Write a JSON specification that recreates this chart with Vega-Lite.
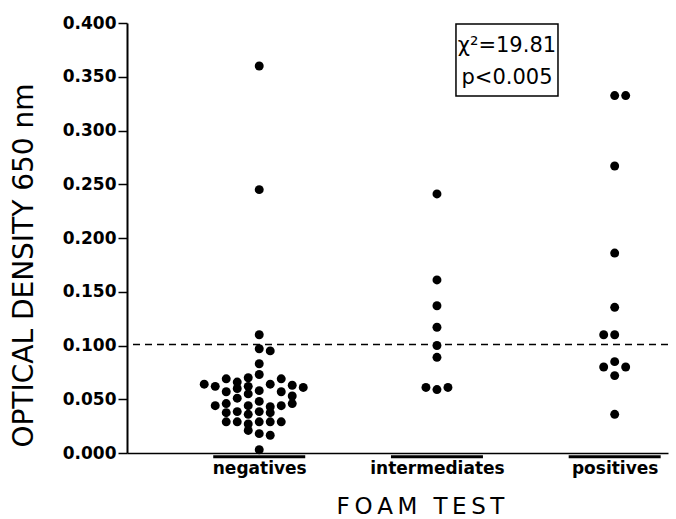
{
  "$schema": "https://vega.github.io/schema/vega-lite/v6.json",
  "width": 541,
  "height": 430,
  "autosize": {"type": "none"},
  "padding": {"left": 127, "top": 23, "right": 8, "bottom": 66},
  "background": "white",
  "config": {"view": {"stroke": null}, "font": "DejaVu Sans"},
  "datasets": {
    "points": [
      {"group": "negatives", "col": 0, "od": 0.360},
      {"group": "negatives", "col": 0, "od": 0.245},
      {"group": "negatives", "col": 0, "od": 0.110},
      {"group": "negatives", "col": 0, "od": 0.097},
      {"group": "negatives", "col": 1, "od": 0.095},
      {"group": "negatives", "col": 0, "od": 0.083},
      {"group": "negatives", "col": 0, "od": 0.073},
      {"group": "negatives", "col": -1, "od": 0.070},
      {"group": "negatives", "col": -3, "od": 0.069},
      {"group": "negatives", "col": 2, "od": 0.069},
      {"group": "negatives", "col": -2, "od": 0.066},
      {"group": "negatives", "col": -5, "od": 0.064},
      {"group": "negatives", "col": 1, "od": 0.064},
      {"group": "negatives", "col": -4, "od": 0.062},
      {"group": "negatives", "col": 3, "od": 0.063},
      {"group": "negatives", "col": 4, "od": 0.061},
      {"group": "negatives", "col": -2, "od": 0.060},
      {"group": "negatives", "col": -1, "od": 0.062},
      {"group": "negatives", "col": -3, "od": 0.057},
      {"group": "negatives", "col": -1, "od": 0.055},
      {"group": "negatives", "col": 0, "od": 0.058},
      {"group": "negatives", "col": 2, "od": 0.057},
      {"group": "negatives", "col": -2, "od": 0.051},
      {"group": "negatives", "col": 3, "od": 0.053},
      {"group": "negatives", "col": 0, "od": 0.048},
      {"group": "negatives", "col": -4, "od": 0.044},
      {"group": "negatives", "col": -3, "od": 0.046},
      {"group": "negatives", "col": -1, "od": 0.044},
      {"group": "negatives", "col": 1, "od": 0.043},
      {"group": "negatives", "col": 2, "od": 0.044},
      {"group": "negatives", "col": 3, "od": 0.046},
      {"group": "negatives", "col": -3, "od": 0.0375},
      {"group": "negatives", "col": -2, "od": 0.0385},
      {"group": "negatives", "col": -1, "od": 0.036},
      {"group": "negatives", "col": 0, "od": 0.0385},
      {"group": "negatives", "col": 1, "od": 0.0375},
      {"group": "negatives", "col": -3, "od": 0.029},
      {"group": "negatives", "col": -2, "od": 0.029},
      {"group": "negatives", "col": -1, "od": 0.027},
      {"group": "negatives", "col": 0, "od": 0.029},
      {"group": "negatives", "col": 1, "od": 0.029},
      {"group": "negatives", "col": 2, "od": 0.029},
      {"group": "negatives", "col": -1, "od": 0.021},
      {"group": "negatives", "col": 0, "od": 0.018},
      {"group": "negatives", "col": 1, "od": 0.0165},
      {"group": "negatives", "col": 0, "od": 0.003},
      {"group": "intermediates", "col": 0, "od": 0.241},
      {"group": "intermediates", "col": 0, "od": 0.161},
      {"group": "intermediates", "col": 0, "od": 0.137},
      {"group": "intermediates", "col": 0, "od": 0.117},
      {"group": "intermediates", "col": 0, "od": 0.100},
      {"group": "intermediates", "col": 0, "od": 0.089},
      {"group": "intermediates", "col": -1, "od": 0.061},
      {"group": "intermediates", "col": 0, "od": 0.059},
      {"group": "intermediates", "col": 1, "od": 0.061},
      {"group": "positives", "col": 0, "od": 0.3325},
      {"group": "positives", "col": 1, "od": 0.3325},
      {"group": "positives", "col": 0, "od": 0.267},
      {"group": "positives", "col": 0, "od": 0.186},
      {"group": "positives", "col": 0, "od": 0.1355},
      {"group": "positives", "col": -1, "od": 0.110},
      {"group": "positives", "col": 0, "od": 0.110},
      {"group": "positives", "col": 0, "od": 0.085},
      {"group": "positives", "col": -1, "od": 0.080},
      {"group": "positives", "col": 1, "od": 0.080},
      {"group": "positives", "col": 0, "od": 0.072},
      {"group": "positives", "col": 0, "od": 0.036}
    ]
  },
  "layer": [
    {
      "data": {"values": [{}]},
      "mark": {"type": "rule", "color": "black", "strokeWidth": 1.5, "strokeDash": [7, 5]},
      "encoding": {"y": {"datum": 0.101, "type": "quantitative"}}
    },
    {
      "data": {"values": [{"group": "negatives"}, {"group": "intermediates"}, {"group": "positives"}]},
      "transform": [{"calculate": "indexof(['negatives','intermediates','positives'], datum.group) + 1", "as": "code"}],
      "mark": {"type": "rule", "color": "black", "strokeWidth": 3, "xOffset": -46, "x2Offset": 46},
      "encoding": {
        "x": {"field": "code", "type": "quantitative"},
        "x2": {"field": "code"},
        "y": {"datum": -0.0035, "type": "quantitative"}
      }
    },
    {
      "data": {"name": "points"},
      "transform": [
        {"calculate": "indexof(['negatives','intermediates','positives'], datum.group) + 1", "as": "code"},
        {"calculate": "datum.code + datum.col * 0.0619", "as": "xpos"}
      ],
      "mark": {"type": "circle", "color": "black", "opacity": 1, "size": 80},
      "encoding": {
        "x": {
          "field": "xpos",
          "type": "quantitative",
          "scale": {"domain": [0.256, 3.3], "nice": false, "zero": false},
          "axis": {
            "values": [1, 2, 3],
            "labelExpr": "datum.value == 1 ? 'negatives' : datum.value == 2 ? 'intermediates' : 'positives'",
            "grid": false,
            "ticks": false,
            "domainColor": "black",
            "domainWidth": 1.5,
            "labelFont": "DejaVu Sans",
            "labelFontWeight": "bold",
            "labelFontSize": 17,
            "labelColor": "black",
            "labelPadding": 7,
            "labelFlush": false,
            "labelOverlap": false,
            "title": "F\u2009O\u2009A\u2009M\u2002\u2009T\u2009E\u2009S\u2009T",
            "titleFont": "DejaVu Sans",
            "titleFontSize": 23,
            "titleFontWeight": "normal",
            "titleColor": "black",
            "titleX": 293,
            "titleY": 60,
            "titleAlign": "center",
            "titleBaseline": "alphabetic"
          }
        },
        "y": {
          "field": "od",
          "type": "quantitative",
          "scale": {"domain": [0, 0.4], "nice": false},
          "axis": {
            "values": [0, 0.05, 0.1, 0.15, 0.2, 0.25, 0.3, 0.35, 0.4],
            "format": ".3f",
            "grid": false,
            "domainColor": "black",
            "domainWidth": 2,
            "tickColor": "black",
            "tickWidth": 1.5,
            "tickSize": 9,
            "labelFont": "DejaVu Sans",
            "labelFontWeight": "bold",
            "labelFontSize": 17,
            "labelColor": "black",
            "labelPadding": 2,
            "labelFlush": false,
            "labelOverlap": false,
            "title": "OPTICAL DENSITY 650 nm",
            "titleFont": "DejaVu Sans",
            "titleFontSize": 28,
            "titleFontWeight": "normal",
            "titleColor": "black",
            "titleAngle": 270,
            "titleX": -95,
            "titleY": 242,
            "titleAlign": "center",
            "titleBaseline": "alphabetic"
          }
        }
      }
    },
    {
      "data": {"values": [{}]},
      "mark": {"type": "rect", "fill": null, "fillOpacity": 0, "stroke": "black", "strokeWidth": 1.5},
      "encoding": {
        "x": {"datum": 2.107, "type": "quantitative"},
        "x2": {"datum": 2.681},
        "y": {"datum": 0.399, "type": "quantitative"},
        "y2": {"datum": 0.332}
      }
    },
    {
      "data": {"values": [{}]},
      "mark": {"type": "text", "font": "DejaVu Sans", "fontSize": 21, "color": "black", "align": "center", "baseline": "middle"},
      "encoding": {
        "x": {"datum": 2.394, "type": "quantitative"},
        "y": {"datum": 0.3786, "type": "quantitative"},
        "text": {"value": "χ²=19.81"}
      }
    },
    {
      "data": {"values": [{}]},
      "mark": {"type": "text", "font": "DejaVu Sans", "fontSize": 21, "color": "black", "align": "center", "baseline": "middle"},
      "encoding": {
        "x": {"datum": 2.394, "type": "quantitative"},
        "y": {"datum": 0.349, "type": "quantitative"},
        "text": {"value": "p<0.005"}
      }
    }
  ]
}
